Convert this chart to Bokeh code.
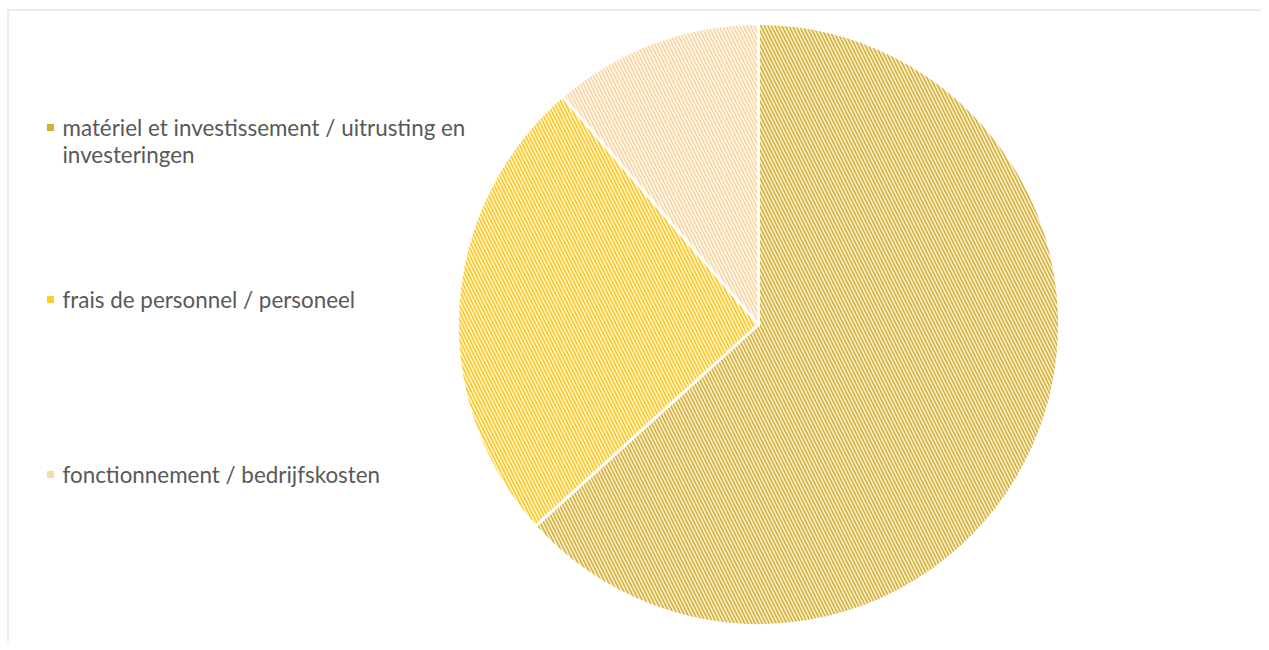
import math
from bokeh.plotting import figure
from bokeh.models import ColumnDataSource, Range1d, Span
from bokeh.embed import file_html
from bokeh.resources import INLINE
from bokeh.core.properties import value

# ---- data ----
categories = [
    "matériel et investissement / uitrusting en investeringen",
    "frais de personnel / personeel",
    "fonctionnement / bedrijfskosten",
]
legend_lines = [
    ["matériel et investissement / uitrusting en", "investeringen"],
    ["frais de personnel / personeel"],
    ["fonctionnement / bedrijfskosten"],
]
shares = [63.3, 25.4, 11.3]

# ---- styles ----
bg_colors = ["#FAEFCB", "#FFF4CC", "#FFF8EE"]
hatch_colors = ["#D4AE38", "#FFC61F", "#F9D3A0"]
legend_colors = ["#D4AE35", "#FFCC33", "#FBD8A8"]

W, H = 1261, 642
BL, BT = 7, 9
FW, FH = W - BL, H - BT
p = figure(width=W, height=H, output_backend="svg", toolbar_location=None,
           x_range=Range1d(0, FW), y_range=Range1d(0, FH),
           min_border_left=BL, min_border_top=BT, min_border_right=0, min_border_bottom=0)
p.axis.visible = False
p.grid.visible = False
p.outline_line_color = None
p.background_fill_color = "white"
p.border_fill_color = "white"
p.add_layout(Span(location=0, dimension="height", line_color="#D9D9D9", line_width=2))
p.add_layout(Span(location=FH, dimension="width", line_color="#D9D9D9", line_width=2))

total = sum(shares)
starts, ends = [], []
cum = 0.0
for s in shares:
    a0 = math.pi / 2 - 2 * math.pi * (cum + s) / total
    a1 = math.pi / 2 - 2 * math.pi * cum / total
    starts.append(a0)
    ends.append(a1)
    cum += s

cx, cy, r = 751, FH - (324 - BT), 301
src = ColumnDataSource(dict(start=starts, end=ends, fill=bg_colors, hatch=hatch_colors,
                            x=[cx] * 3, y=[cy] * 3))
p.wedge(x="x", y="y", radius=r, start_angle="start", end_angle="end", source=src,
        fill_color="fill", hatch_pattern="\\", hatch_color="hatch",
        hatch_scale=7, hatch_weight=1.5,
        line_color="white", line_width=3)

# ---- legend (manual, to allow wrapped label) ----
rows_sy = [127, 299, 474]
lx, tx = 50 - BL, 62 - BL
line_h = 27
for i, lines in enumerate(legend_lines):
    y0 = FH - (rows_sy[i] - BT)
    p.scatter([lx], [y0], marker="square", size=7, fill_color=legend_colors[i],
              line_color=None)
    for j, t in enumerate(lines):
        p.text([tx], [y0 - j * line_h], text=[t], text_font=value("Lato"),
               text_font_size="22.4px", text_color="#595959",
               text_baseline="middle", text_align="left")

open("out.html", "w").write(file_html(p, INLINE))
